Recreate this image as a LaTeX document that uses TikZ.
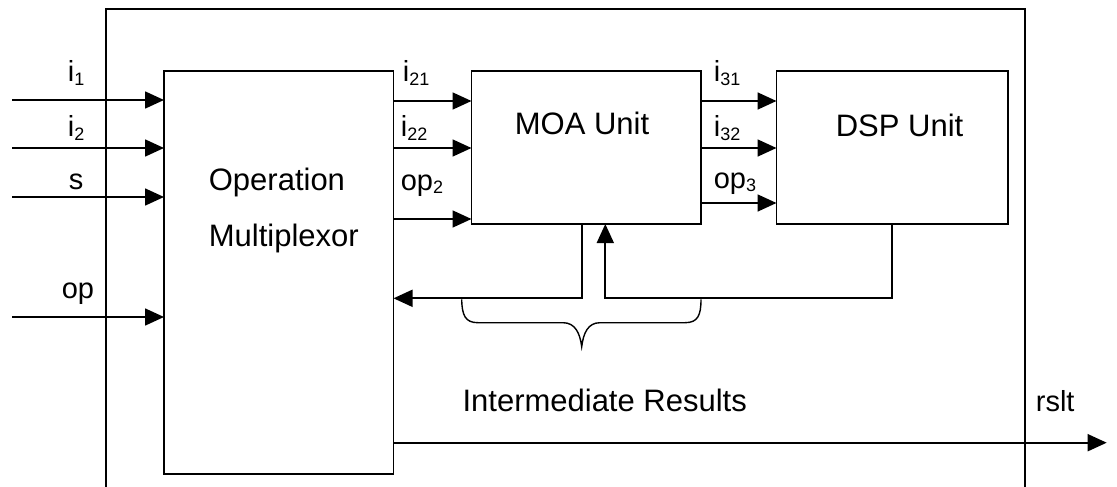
\documentclass[tikz,border=0pt]{standalone}
\usepackage{fontspec}
\setmainfont{Liberation Sans}
\usetikzlibrary{arrows.meta}
\newcommand{\lsub}[1]{\raisebox{-3.5pt}{\fontsize{18pt}{18pt}\selectfont #1}}
\begin{document}
\begin{tikzpicture}[x=1pt,y=-1pt, line width=1.7pt,
  box/.style={draw, rectangle, inner sep=0pt, outer sep=0pt, anchor=north west},
  arr/.style={-{Triangle[length=19pt,width=17pt]}},
  lbl/.style={anchor=base west, inner sep=0pt, font=\fontsize{29pt}{36pt}\selectfont},
  ttl/.style={anchor=base west, inner sep=0pt, font=\fontsize{31pt}{36pt}\selectfont}]
\useasboundingbox (0,0) rectangle (1117,487);
% outer frame
\draw (106,487) -- (106,9) -- (1025,9) -- (1025,487);
% blocks
\node[box, minimum width=229.5pt, minimum height=403pt] (mux) at (164,71) {};
\node[box, minimum width=229.5pt, minimum height=153pt] (moa) at (471.5,71) {};
\node[box, minimum width=231.5pt, minimum height=153pt] (dsp) at (776.5,71) {};
% block texts
\node[ttl] (muxa) at (208,190) {Operation};
\node[ttl] (muxb) at (208,246.7) {Multiplexor};
\node[ttl] (moat) at (514,135) {MOA Unit};
\node[ttl] (dspt) at (835,136) {DSP Unit};
\node[ttl] (irt) at (461.7,411) {Intermediate Results};
\node[lbl] (rslt) at (1035,411.5) {rslt};
% inputs
\coordinate (in1) at (12,100);
\coordinate (in2) at (12,148);
\coordinate (in3) at (12,197);
\coordinate (in4) at (12,317);
\draw[arr] (in1) -- (in1 -| mux.west);
\draw[arr] (in2) -- (in2 -| mux.west);
\draw[arr] (in3) -- (in3 -| mux.west);
\draw[arr] (in4) -- (in4 -| mux.west);
\node[lbl] (li1) at (67,81.7) {i\lsub{1}};
\node[lbl] (li2) at (67,136.7) {i\lsub{2}};
\node[lbl] (ls) at (68,189.3) {s};
\node[lbl] (lop) at (61,298) {op};
% mux -> moa
\draw[arr] ([yshift=-30pt]mux.north east) -- ([yshift=-30pt]moa.north west);
\draw[arr] ([yshift=-77pt]mux.north east) -- ([yshift=-77pt]moa.north west);
\draw[arr] ([yshift=-148pt]mux.north east) -- ([yshift=-148pt]moa.north west);
\node[lbl] (li21) at (402,81.7) {i\lsub{21}};
\node[lbl] (li22) at (400,136.7) {i\lsub{22}};
\node[lbl] (lop2) at (400,190) {op\lsub{2}};
% moa -> dsp
\draw[arr] ([yshift=-30pt]moa.north east) -- ([yshift=-30pt]dsp.north west);
\draw[arr] ([yshift=-77pt]moa.north east) -- ([yshift=-77pt]dsp.north west);
\draw[arr] ([yshift=-132pt]moa.north east) -- ([yshift=-132pt]dsp.north west);
\node[lbl] (li31) at (713,81.7) {i\lsub{31}};
\node[lbl] (li32) at (713,136.7) {i\lsub{32}};
\node[lbl] (lop3) at (713,188) {op\lsub{3}};
% feedback
\coordinate (fbL) at (581.7,298.3);
\coordinate (fbR) at (605.3,298.3);
\draw[arr] (moa.south -| fbL) -- (fbL) -- (fbL -| mux.east);
\draw[arr] (dsp.south) |- (fbR) -- (fbR |- moa.south);
% brace
\draw[line width=1.4pt] (461.7,299.3) .. controls (462,315) and (465,322.7) .. (478,322.7) -- (563,322.7)
  .. controls (575,322.7) and (580,333) .. (581.7,346.7)
  .. controls (583.4,333) and (588,322.7) .. (600,322.7) -- (685,322.7)
  .. controls (698,322.7) and (701,315) .. (701,299.3);
% result
\coordinate (rsend) at (1106.7,442.7);
\draw[arr] (rsend -| mux.east) -- (rsend);
\end{tikzpicture}
\end{document}
